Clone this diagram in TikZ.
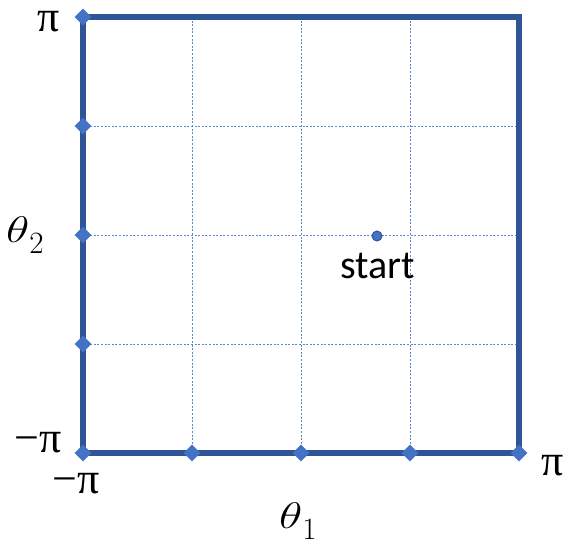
\documentclass[tikz,border=0pt]{standalone}
\usepackage{fix-cm}
\usepackage{fontspec}
\usepackage{graphicx}
\newfontfamily\carlito{Carlito}
\newfontfamily\greekfont{Liberation Serif}
\usetikzlibrary{shapes.geometric}
\definecolor{edgeblue}{HTML}{2F5597}
\definecolor{markblue}{HTML}{4472C4}
\definecolor{gridblue}{HTML}{5B86D0}
\tikzset{
  gridline/.style={gridblue, line width=0.8pt, dash pattern=on 2pt off 1.6pt},
  border/.style={edgeblue, line width=6pt, line join=miter},
  tick/.style={diamond, fill=markblue, draw=none, minimum size=17pt, inner sep=0pt},
  lbl/.style={inner sep=0pt, anchor=base west, text height=22pt, text depth=0pt, font=\greekfont\fontsize{44}{50}\selectfont},
  axlbl/.style={inner sep=0pt, anchor=base west, text height=26pt, text depth=10pt, font=\fontsize{37}{44}\selectfont},
  dot/.style={circle, fill=markblue, draw=edgeblue, line width=1pt, minimum size=10pt, inner sep=0pt}
}
\newcommand{\axsym}{\scalebox{1.3}[1]{$\theta$}}
\newcommand{\axsub}[1]{\raisebox{-11pt}{\fontsize{31}{34}\selectfont #1}}
\begin{document}
\begin{tikzpicture}[x=1pt,y=-1pt]
\useasboundingbox (0,0) rectangle (569,543);
% corners
\coordinate (bl) at (83,453);
\coordinate (tl) at (83,17);
\coordinate (tr) at (519,17);
\coordinate (br) at (519,453);
% grid
\foreach \i/\v in {1/192,2/301,3/410} {
  \coordinate (gt\i) at (\v,17);
  \coordinate (gb\i) at (\v,453);
  \draw[gridline] (gt\i) -- (gb\i);
}
\foreach \i/\v in {1/126,2/235,3/344} {
  \coordinate (gl\i) at (83,\v);
  \coordinate (gr\i) at (519,\v);
  \draw[gridline] (gl\i) -- (gr\i);
}
% border
\draw[border] (bl) -- (tl) -- (tr) -- (br) -- cycle;
% ticks
\node[tick] (t0) at (bl) {};
\node[tick] (ty4) at (tl) {};
\node[tick] (ty1) at (gl3) {};
\node[tick] (ty2) at (gl2) {};
\node[tick] (ty3) at (gl1) {};
\node[tick] (tx1) at (gb1) {};
\node[tick] (tx2) at (gb2) {};
\node[tick] (tx3) at (gb3) {};
\node[tick] (tx4) at (br) {};
% start
\node[dot] (start) at (377,236) {};
\node[inner sep=0pt, font=\carlito\fontsize{40}{46}\selectfont] (startlbl) at (378,266) {start};
% labels
\node[lbl] (ytop) at (37,31) {π};
\node[lbl] (ybot) at (14,452) {−π};
\node[lbl] (xleft) at (52,493) {−π};
\node[lbl] (xright) at (541,475) {π};
\node[axlbl] (th2) at (6,242) {\axsym\axsub{2}};
\node[axlbl] (th1) at (279,528) {\axsym\axsub{1}};
\end{tikzpicture}
\end{document}
